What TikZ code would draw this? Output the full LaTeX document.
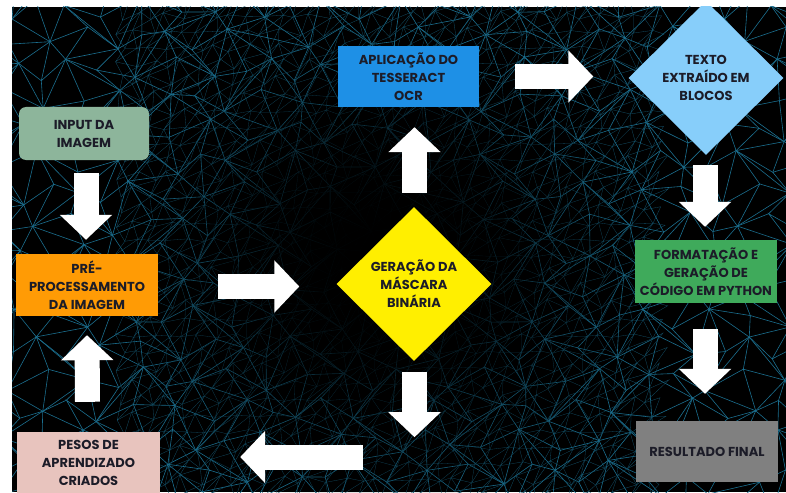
\documentclass[tikz,border=0pt]{standalone}
\usepackage{fontspec}
\setmainfont{Poppins}
\usetikzlibrary{shapes.geometric,arrows.meta,calc,fadings}

\definecolor{meshblue}{HTML}{1B6F8F}
\definecolor{meshfine}{HTML}{134F66}
\definecolor{textdark}{HTML}{1C1C28}
\definecolor{inputgreen}{HTML}{8DB59B}
\definecolor{preorange}{HTML}{FF9B05}
\definecolor{pesospink}{HTML}{E8C4BE}
\definecolor{ocrblue}{HTML}{1E90E6}
\definecolor{textoblue}{HTML}{87CEFA}
\definecolor{maskyellow}{HTML}{FFEF00}
\definecolor{formatgreen}{HTML}{3FAA5B}
\definecolor{resultgray}{HTML}{808080}

\tikzfading[name=centerfade, inner color=transparent!0, outer color=transparent!100]

\tikzset{
  stage/.style={rectangle, minimum width=142pt, minimum height=62pt, inner sep=0pt,
    align=center, text=textdark, font=\bfseries\fontsize{13}{18}\selectfont},
  decision/.style={diamond, minimum width=155pt, minimum height=154pt, inner sep=0pt,
    align=center, text=textdark, font=\bfseries\fontsize{13}{18}\selectfont},
  flowarrow/.style={white, line width=25pt, -{Triangle[width=51pt,length=25pt]}},
  meshline/.style={meshblue, line width=0.6pt},
  fineline/.style={meshfine, line width=0.3pt},
}

\begin{document}
\begin{tikzpicture}[x=1pt,y=-1pt,
  declare function={
    mx(\i,\j)=12+32*\i+12*sin(313*\i+197*\j);
    my(\i,\j)=7+31*\j+12*cos(229*\i+419*\j);
    fx(\i,\j)=120+16*\i+5*sin(277*\i+151*\j);
    fy(\i,\j)=16*\j+5*cos(173*\i+331*\j);
  }]
\useasboundingbox[fill=white] (0,0) rectangle (786,492);
\begin{scope}
\clip (12,7) rectangle (786,492);
\fill[black] (12,7) rectangle (786,492);

% background mesh
\foreach \i in {-1,...,24}{
  \foreach \j in {-1,...,15}{
    \draw[meshline] ({mx(\i,\j+1)},{my(\i,\j+1)}) -- ({mx(\i,\j)},{my(\i,\j)}) -- ({mx(\i+1,\j)},{my(\i+1,\j)});
    \ifodd\numexpr\i+\j+2\relax
      \draw[meshline] ({mx(\i+1,\j)},{my(\i+1,\j)}) -- ({mx(\i,\j+1)},{my(\i,\j+1)});
    \else
      \draw[meshline] ({mx(\i,\j)},{my(\i,\j)}) -- ({mx(\i+1,\j+1)},{my(\i+1,\j+1)});
    \fi
  }
}
\foreach \i in {0,...,33}{
  \foreach \j in {0,...,31}{
    \draw[fineline] ({fx(\i,\j+1)},{fy(\i,\j+1)}) -- ({fx(\i,\j)},{fy(\i,\j)}) -- ({fx(\i+1,\j)},{fy(\i+1,\j)}) -- ({fx(\i,\j+1)},{fy(\i,\j+1)});
  }
}
\fill[black, path fading=centerfade] (380,270) ellipse [x radius=270, y radius=250];
\fill[black, path fading=centerfade] (380,250) ellipse [x radius=170, y radius=170];

% stages
\node[stage, minimum width=130pt, minimum height=53pt, rounded corners=7pt, fill=inputgreen] (input) at (84,133.5) {INPUT DA\\IMAGEM};
\node[stage, fill=preorange] (pre) at (87,285) {PRÉ-\\PROCESSAMENTO\\DA IMAGEM};
\node[stage, minimum width=143pt, fill=pesospink] (pesos) at (88.5,463) {PESOS DE\\APRENDIZADO\\CRIADOS};
\node[stage, minimum width=141pt, minimum height=61pt, fill=ocrblue] (ocr) at (408.5,76.5) {APLICAÇÃO DO\\TESSERACT\\OCR};
\node[decision, fill=textoblue] (texto) at (706,78) {TEXTO\\EXTRAÍDO EM\\BLOCOS};
\node[decision, fill=maskyellow] (mask) at (414,284) {GERAÇÃO DA\\MÁSCARA\\BINÁRIA};
\node[stage, minimum height=63pt, fill=formatgreen] (format) at (706,271.5) {FORMATAÇÃO E\\GERAÇÃO DE\\CÓDIGO EM PYTHON};
\node[stage, minimum height=61pt, fill=resultgray] (result) at (707,451.5) {RESULTADO FINAL};

% arrows
\draw[flowarrow] ($(input.south)+(2,13)$) -- ($(pre.north)+(-1,-14)$);
\draw[flowarrow] ($(pesos.north)+(-1,-30)$) -- ($(pre.south)+(0,19)$);
\draw[flowarrow] ($(pre.east)+(60,1.5)$) -- ($(mask.west)+(-37,2.5)$);
\draw[flowarrow] ($(mask.north)+(0.5,-14)$) -- ($(ocr.south)+(6,20)$);
\draw[flowarrow] ($(ocr.east)+(36,0)$) -- ($(texto.west)+(-35,-1.5)$);
\draw[flowarrow] ($(texto.south)+(-1,10)$) -- ($(format.north)+(-1,-13)$);
\draw[flowarrow] ($(format.south)+(-1,26)$) -- ($(result.north)+(-2,-27)$);
\draw[flowarrow] ($(mask.south)+(0.5,11)$) -- ($(mask.south)+(0.5,76)$);
\draw[flowarrow] ($(pesos.east)+(203,-6)$) -- ($(pesos.east)+(80,-6)$);
\end{scope}
\end{tikzpicture}
\end{document}
